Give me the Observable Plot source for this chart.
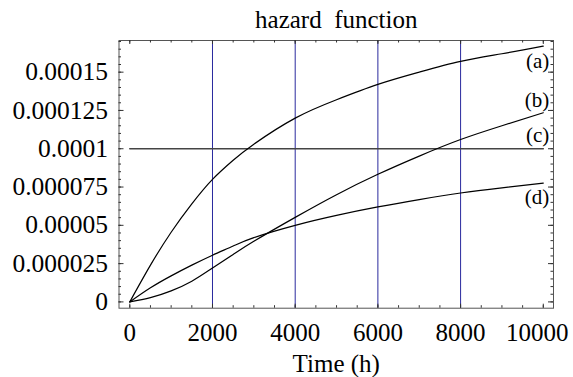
<!DOCTYPE html>
<html><head><meta charset="utf-8">
<script src="https://cdn.jsdelivr.net/npm/d3@7"></script>
<script src="https://cdn.jsdelivr.net/npm/@observablehq/plot@0.6"></script>
<style>body{margin:0;background:#fff}</style>
</head><body><div id="chart"></div>
<script>
// ---- data ----
const titleText = "hazard  function";
const xLabel = "Time (h)";
const time = [0,500,1000,1500,2000,2500,3000,4000,5000,6000,7000,8000,9000,10000];
const hazardA = [0,0.0000240,0.0000455,0.0000640,0.0000800,0.0000925,0.0001030,0.0001200,0.0001320,0.0001420,0.0001500,0.0001570,0.0001620,0.0001670];
const hazardB = [0,0.0000028,0.0000072,0.0000135,0.0000221,0.0000310,0.0000396,0.0000552,0.0000700,0.0000833,0.0000952,0.0001060,0.0001150,0.0001235];
const hazardC = [0.0001,0.0001,0.0001,0.0001,0.0001,0.0001,0.0001,0.0001,0.0001,0.0001,0.0001,0.0001,0.0001,0.0001];
const hazardD = [0,0.0000092,0.0000170,0.0000240,0.0000305,0.0000365,0.0000420,0.0000500,0.0000565,0.0000620,0.0000668,0.0000711,0.0000745,0.0000776];
const curveLabels = ["(a)","(b)","(c)","(d)"];
const xTicks = [0,2000,4000,6000,8000];
const xLastTick = [10000];
const xMinorTicks = d3.range(0,10001,500);
const gridX = [2000,4000,6000,8000];
const yTicks = [0,0.000025,0.00005,0.000075,0.0001,0.000125,0.00015];
const yTickLabels = ["0","0.000025","0.00005","0.000075","0.0001","0.000125","0.00015"];
const yMinorTicks = d3.range(0,35).map(i => i*0.000005);

// ---- layout ----
const W = 573, H = 377;
const mL = 118.5, mR = 20, mT = 40, mB = 69.3;
const plotW = W - mL - mR, plotH = H - mT - mB;
const allXTicks = xTicks.concat(xLastTick);

const seriesVals = [hazardA, hazardB, hazardC, hazardD];
const rows = seriesVals.flatMap((vals, k) => vals.map((h, i) => ({t: time[i], h, key: curveLabels[k]})));
const rowsCurves = rows.filter(d => d.key !== "(c)");
const rowsC = rows.filter(d => d.key === "(c)");
const labelDy = [15, -12, -13, 14];
const labelMarks = curveLabels.map((lab, k) =>
  Plot.text([{t: time[time.length-1], h: seriesVals[k][time.length-1], lab}],
    {x: "t", y: "h", text: "lab", dx: 6, dy: labelDy[k], textAnchor: "end", lineAnchor: "middle", fontSize: 21})
);

const chart = Plot.plot({
  width: W, height: H,
  marginLeft: mL, marginRight: mR, marginTop: mT, marginBottom: mB,
  style: {fontFamily: "Liberation Serif", fontSize: "24px", background: "#fff", color: "#000"},
  x: {domain: [-261, 10247]},
  y: {domain: [-0.00000411, 0.00017067]},
  marks: [
    Plot.ruleX(gridX, {x: d => d, stroke: "#2a2a9e", strokeWidth: 1}),
    Plot.line(rowsC, {x: "t", y: "h", stroke: "#444", strokeWidth: 1.6}),
    Plot.line(rowsCurves, {x: "t", y: "h", z: "key", stroke: "#000", strokeWidth: 1.2, curve: "natural"}),
    Plot.frame({stroke: "#555", strokeWidth: 1}),
    Plot.tickX(xMinorTicks, {x: d => d, insetTop: plotH - 2.5, stroke: "#333"}),
    Plot.tickX(xMinorTicks, {x: d => d, insetBottom: plotH - 2.5, stroke: "#333"}),
    Plot.tickX(allXTicks, {x: d => d, insetTop: plotH - 4, stroke: "#333"}),
    Plot.tickX(allXTicks, {x: d => d, insetBottom: plotH - 4, stroke: "#333"}),
    Plot.tickY(yMinorTicks, {y: d => d, insetRight: plotW - 2.5, stroke: "#333"}),
    Plot.tickY(yMinorTicks, {y: d => d, insetLeft: plotW - 2.5, stroke: "#333"}),
    Plot.tickY(yTicks, {y: d => d, insetRight: plotW - 5, stroke: "#333"}),
    Plot.tickY(yTicks, {y: d => d, insetLeft: plotW - 5, stroke: "#333"}),
    Plot.axisX({ticks: xTicks, tickSize: 0, tickPadding: 15, fontSize: 25,
      tickFormat: d => String(d), label: xLabel, labelAnchor: "center", labelArrow: "none", labelOffset: 64}),
    Plot.axisX({ticks: xLastTick, tickSize: 0, tickPadding: 15, fontSize: 25, dx: -6,
      tickFormat: d => String(d), label: null}),
    Plot.axisY({ticks: yTicks, tickSize: 0, tickPadding: 11, fontSize: 25.5,
      tickFormat: d => yTickLabels[yTicks.indexOf(d)], label: null}),
    ...labelMarks,
    Plot.text([titleText], {text: d => d, frameAnchor: "top", dy: -21, lineAnchor: "middle", fontSize: 25})
  ]
});
document.getElementById("chart").appendChild(chart);
</script>
</body></html>
